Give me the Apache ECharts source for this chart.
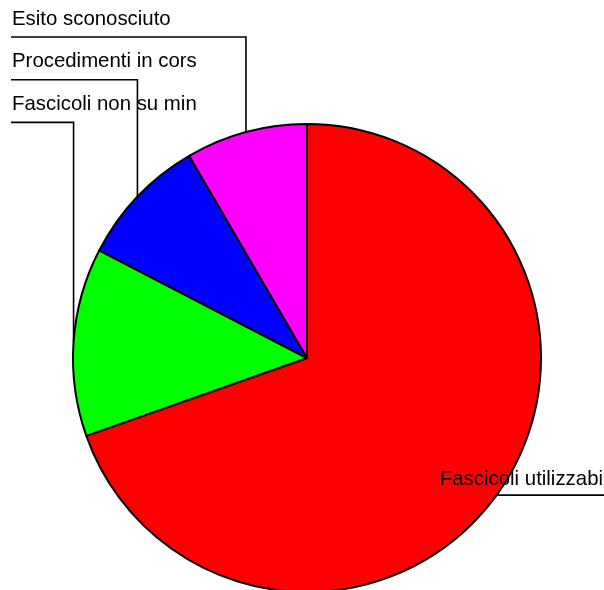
<!DOCTYPE html>
<html>
<head>
<meta charset="utf-8">
<script src="https://cdn.jsdelivr.net/npm/echarts@6/dist/echarts.min.js"></script>
<style>
  html, body { margin: 0; padding: 0; background: #fff; }
  #chart { width: 604px; height: 590px; }
</style>
</head>
<body>
<div id="chart"></div>
<script>
// Slice names (as shown), shares and fills, clockwise from 12 o'clock
const categories = ['Fascicoli utilizzabi', 'Fascicoli non su min', 'Procedimenti in cors', 'Esito sconosciuto'];
const values = [69.6, 13.0, 9.0, 8.4];
const colors = ['#ff0000', '#00ff00', '#0000ff', '#ff00ff'];

const chart = echarts.init(document.getElementById('chart'), null, { renderer: 'canvas' });
const W = 604;

// Left-hand labels are stacked top-down, starting from the last slice
const firstRowY = 37;
const rowGap = 42.7;

chart.setOption({
  animation: false,
  backgroundColor: '#ffffff',
  series: [{
    type: 'pie',
    center: [307, 358],
    radius: 234,
    startAngle: 90,
    clockwise: true,
    avoidLabelOverlap: false,
    itemStyle: { borderColor: '#000', borderWidth: 2 },
    emphasis: { disabled: true },
    label: {
      show: true,
      position: 'outside',
      color: '#000',
      fontFamily: 'Liberation Sans, Arial, sans-serif',
      fontSize: 20.4
    },
    labelLine: {
      show: true,
      length: 10,
      length2: 10,
      lineStyle: { color: '#000', width: 1.6 }
    },
    labelLayout: function (params) {
      const idx = params.dataIndex;
      const edge = params.labelLinePoints[0];
      if (idx === 0) {
        const y = edge[1] + 2;
        return {
          x: W - 1, y: y - 16,
          align: 'right', verticalAlign: 'middle',
          labelLinePoints: [edge, [edge[0], y], [W, y]]
        };
      }
      const row = categories.length - 1 - idx;
      const lineY = firstRowY + row * rowGap;
      return {
        x: 12, y: lineY - 18,
        align: 'left', verticalAlign: 'middle',
        labelLinePoints: [edge, [edge[0], lineY], [11, lineY]]
      };
    },
    data: categories.map((name, i) => ({
      name: name,
      value: values[i],
      itemStyle: { color: colors[i] }
    }))
  }]
});
</script>
</body>
</html>
